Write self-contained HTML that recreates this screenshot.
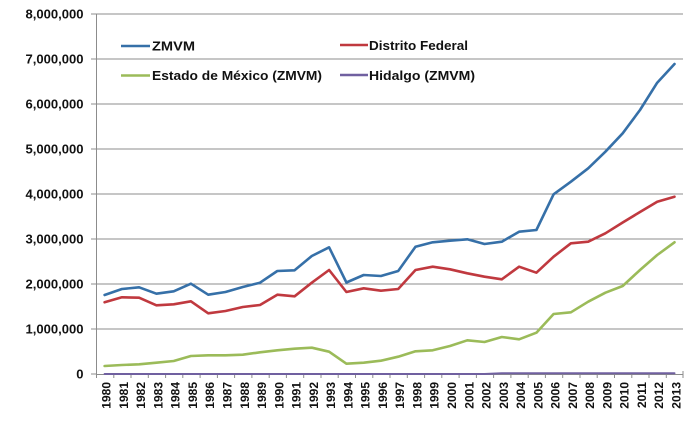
<!DOCTYPE html>
<html>
<head>
<meta charset="utf-8">
<style>
html,body{margin:0;padding:0;background:#fff;}
svg{display:block;}
text{font-family:"Liberation Sans",Arial,sans-serif;fill:#111;}
</style>
</head>
<body>
<svg width="698" height="421" viewBox="0 0 698 421" xmlns="http://www.w3.org/2000/svg">
<rect x="0" y="0" width="698" height="421" fill="#fff"/>
<!-- gridlines -->
<g stroke="#8c8c8c" stroke-width="1">
<line x1="96" y1="14" x2="683" y2="14"/>
<line x1="96" y1="59" x2="683" y2="59"/>
<line x1="96" y1="104" x2="683" y2="104"/>
<line x1="96" y1="149" x2="683" y2="149"/>
<line x1="96" y1="194" x2="683" y2="194"/>
<line x1="96" y1="239" x2="683" y2="239"/>
<line x1="96" y1="284" x2="683" y2="284"/>
<line x1="96" y1="329" x2="683" y2="329"/>
</g>
<!-- axes -->
<g stroke="#8c8c8c" stroke-width="1">
<line x1="96.5" y1="14" x2="96.5" y2="374"/>
<line x1="91" y1="14" x2="96" y2="14"/>
<line x1="91" y1="59" x2="96" y2="59"/>
<line x1="91" y1="104" x2="96" y2="104"/>
<line x1="91" y1="149" x2="96" y2="149"/>
<line x1="91" y1="194" x2="96" y2="194"/>
<line x1="91" y1="239" x2="96" y2="239"/>
<line x1="91" y1="284" x2="96" y2="284"/>
<line x1="91" y1="329" x2="96" y2="329"/>
<line x1="91" y1="374" x2="96" y2="374"/>
<line x1="96" y1="374.5" x2="683" y2="374.5"/>
</g>
<g stroke="#8c8c8c" stroke-width="1">
<line x1="96.5" y1="374" x2="96.5" y2="378"/>
<line x1="113.8" y1="374" x2="113.8" y2="378"/>
<line x1="131.0" y1="374" x2="131.0" y2="378"/>
<line x1="148.3" y1="374" x2="148.3" y2="378"/>
<line x1="165.6" y1="374" x2="165.6" y2="378"/>
<line x1="182.8" y1="374" x2="182.8" y2="378"/>
<line x1="200.1" y1="374" x2="200.1" y2="378"/>
<line x1="217.4" y1="374" x2="217.4" y2="378"/>
<line x1="234.6" y1="374" x2="234.6" y2="378"/>
<line x1="251.9" y1="374" x2="251.9" y2="378"/>
<line x1="269.2" y1="374" x2="269.2" y2="378"/>
<line x1="286.4" y1="374" x2="286.4" y2="378"/>
<line x1="303.7" y1="374" x2="303.7" y2="378"/>
<line x1="321.0" y1="374" x2="321.0" y2="378"/>
<line x1="338.2" y1="374" x2="338.2" y2="378"/>
<line x1="355.5" y1="374" x2="355.5" y2="378"/>
<line x1="372.8" y1="374" x2="372.8" y2="378"/>
<line x1="390.0" y1="374" x2="390.0" y2="378"/>
<line x1="407.3" y1="374" x2="407.3" y2="378"/>
<line x1="424.6" y1="374" x2="424.6" y2="378"/>
<line x1="441.8" y1="374" x2="441.8" y2="378"/>
<line x1="459.1" y1="374" x2="459.1" y2="378"/>
<line x1="476.4" y1="374" x2="476.4" y2="378"/>
<line x1="493.6" y1="374" x2="493.6" y2="378"/>
<line x1="510.9" y1="374" x2="510.9" y2="378"/>
<line x1="528.2" y1="374" x2="528.2" y2="378"/>
<line x1="545.4" y1="374" x2="545.4" y2="378"/>
<line x1="562.7" y1="374" x2="562.7" y2="378"/>
<line x1="580.0" y1="374" x2="580.0" y2="378"/>
<line x1="597.2" y1="374" x2="597.2" y2="378"/>
<line x1="614.5" y1="374" x2="614.5" y2="378"/>
<line x1="631.8" y1="374" x2="631.8" y2="378"/>
<line x1="649.0" y1="374" x2="649.0" y2="378"/>
<line x1="666.3" y1="374" x2="666.3" y2="378"/>
<line x1="683.0" y1="371" x2="683.0" y2="378"/>
</g>
<!-- Y labels -->
<g font-size="13" font-weight="bold" text-anchor="end">
<text x="83.5" y="18.5" textLength="58" lengthAdjust="spacingAndGlyphs">8,000,000</text>
<text x="83.5" y="63.5" textLength="58" lengthAdjust="spacingAndGlyphs">7,000,000</text>
<text x="83.5" y="108.5" textLength="58" lengthAdjust="spacingAndGlyphs">6,000,000</text>
<text x="83.5" y="153.5" textLength="58" lengthAdjust="spacingAndGlyphs">5,000,000</text>
<text x="83.5" y="198.5" textLength="58" lengthAdjust="spacingAndGlyphs">4,000,000</text>
<text x="83.5" y="243.5" textLength="58" lengthAdjust="spacingAndGlyphs">3,000,000</text>
<text x="83.5" y="288.5" textLength="58" lengthAdjust="spacingAndGlyphs">2,000,000</text>
<text x="83.5" y="333.5" textLength="58" lengthAdjust="spacingAndGlyphs">1,000,000</text>
<text x="83.5" y="378.5">0</text>
</g>
<!-- X labels -->
<g font-size="12" font-weight="bold" text-anchor="end">
<text transform="translate(110.6,382) rotate(-90)">1980</text>
<text transform="translate(127.9,382) rotate(-90)">1981</text>
<text transform="translate(145.1,382) rotate(-90)">1982</text>
<text transform="translate(162.4,382) rotate(-90)">1983</text>
<text transform="translate(179.7,382) rotate(-90)">1984</text>
<text transform="translate(196.9,382) rotate(-90)">1985</text>
<text transform="translate(214.2,382) rotate(-90)">1986</text>
<text transform="translate(231.5,382) rotate(-90)">1987</text>
<text transform="translate(248.8,382) rotate(-90)">1988</text>
<text transform="translate(266.0,382) rotate(-90)">1989</text>
<text transform="translate(283.3,382) rotate(-90)">1990</text>
<text transform="translate(300.6,382) rotate(-90)">1991</text>
<text transform="translate(317.8,382) rotate(-90)">1992</text>
<text transform="translate(335.1,382) rotate(-90)">1993</text>
<text transform="translate(352.4,382) rotate(-90)">1994</text>
<text transform="translate(369.7,382) rotate(-90)">1995</text>
<text transform="translate(386.9,382) rotate(-90)">1996</text>
<text transform="translate(404.2,382) rotate(-90)">1997</text>
<text transform="translate(421.5,382) rotate(-90)">1998</text>
<text transform="translate(438.7,382) rotate(-90)">1999</text>
<text transform="translate(456.0,382) rotate(-90)">2000</text>
<text transform="translate(473.3,382) rotate(-90)">2001</text>
<text transform="translate(490.5,382) rotate(-90)">2002</text>
<text transform="translate(507.8,382) rotate(-90)">2003</text>
<text transform="translate(525.1,382) rotate(-90)">2004</text>
<text transform="translate(542.4,382) rotate(-90)">2005</text>
<text transform="translate(559.6,382) rotate(-90)">2006</text>
<text transform="translate(576.9,382) rotate(-90)">2007</text>
<text transform="translate(594.2,382) rotate(-90)">2008</text>
<text transform="translate(611.4,382) rotate(-90)">2009</text>
<text transform="translate(628.7,382) rotate(-90)">2010</text>
<text transform="translate(646.0,382) rotate(-90)">2011</text>
<text transform="translate(663.2,382) rotate(-90)">2012</text>
<text transform="translate(680.5,382) rotate(-90)">2013</text>
</g>
<!-- series -->
<g fill="none" stroke-width="2.6" stroke-linejoin="round" stroke-linecap="round">
<polyline stroke="#7060a0" stroke-width="2" points="104.6,374 484.5,374 501.8,373.3 674.5,373.3"/>
<polyline stroke="#9bbb59" points="104.6,366 121.9,365 139.1,364.3 156.4,362.7 173.7,361 190.9,356 208.2,355.3 225.5,355.3 242.8,354.7 260.0,352.3 277.3,350.3 294.6,348.7 311.8,347.7 329.1,351.7 346.4,363.7 363.7,362.7 380.9,360.7 398.2,356.7 415.5,351.3 432.7,350.3 450.0,346 467.3,340.3 484.5,342 501.8,337 519.1,339.3 536.4,332.7 553.6,314 570.9,312.3 588.2,301.7 605.4,292.7 622.7,286 640.0,270 657.2,255 674.5,242.3"/>
<polyline stroke="#c0393f" points="104.6,302.3 121.9,297.3 139.1,297.7 156.4,305.3 173.7,304.3 190.9,301.3 208.2,313.3 225.5,311 242.8,307 260.0,305 277.3,294.7 294.6,296.3 311.8,282.7 329.1,270 346.4,292 363.7,288.3 380.9,290.7 398.2,289 415.5,270 432.7,266.7 450.0,269.3 467.3,273.3 484.5,276.7 501.8,279.3 519.1,266.7 536.4,272.7 553.6,256.7 570.9,243.3 588.2,241.7 605.4,233.3 622.7,222.5 640.0,212 657.2,201.7 674.5,196.7"/>
<polyline stroke="#3670a8" points="104.6,295 121.9,289 139.1,287.3 156.4,293.7 173.7,291.3 190.9,283.7 208.2,294.7 225.5,292 242.8,287 260.0,282.7 277.3,271 294.6,270.3 311.8,256 329.1,247.3 346.4,282.5 363.7,275 380.9,276 398.2,271 415.5,246.7 432.7,242.3 450.0,240.7 467.3,239.3 484.5,244 501.8,241.7 519.1,231.7 536.4,230 553.6,194.3 570.9,181.7 588.2,168.3 605.4,151.7 622.7,133.3 640.0,110 657.2,82.7 674.5,64"/>
</g>
<!-- legend -->
<g stroke-width="2.6">
<line x1="121" y1="46" x2="150" y2="46" stroke="#3670a8"/>
<line x1="121" y1="75.5" x2="150" y2="75.5" stroke="#9bbb59"/>
<line x1="340" y1="45" x2="368" y2="45" stroke="#c0393f"/>
<line x1="340" y1="75" x2="368" y2="75" stroke="#7060a0"/>
</g>
<g font-size="13" font-weight="bold">
<text x="152" y="50.5" textLength="43" lengthAdjust="spacingAndGlyphs">ZMVM</text>
<text x="152" y="80" textLength="170" lengthAdjust="spacingAndGlyphs">Estado de México (ZMVM)</text>
<text x="369" y="50" textLength="99" lengthAdjust="spacingAndGlyphs">Distrito Federal</text>
<text x="369" y="80" textLength="106" lengthAdjust="spacingAndGlyphs">Hidalgo (ZMVM)</text>
</g>
</svg>
</body>
</html>
